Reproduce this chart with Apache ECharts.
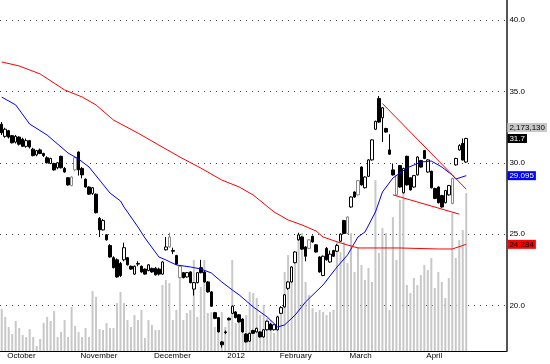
<!DOCTYPE html>
<html><head><meta charset="utf-8">
<script src="https://cdn.jsdelivr.net/npm/echarts@6/dist/echarts.min.js"></script>
<style>html,body{margin:0;padding:0;background:#fff}#c{width:550px;height:364px}</style>
</head><body><div id="c"></div>
<script>
// ---- data ----
const slotCount = 145; // trading-day slots on the axis (incl. empty right margin)
const monthLabels = ['October', 'November', 'December', '2012', 'February', 'March', 'April'];
const monthStartIdx = [1, 22, 43, 64, 79, 99, 121];
const yTicks = [20, 25, 30, 35, 40];
// [open, close, low, high]
const ohlc = [
[32.7,32.1,31.95,32.85],[31.85,32.35,31.75,32.45],[32.25,31.8,31.7,32.3],[31.9,31.4,31.35,31.95],[31.45,31.85,31.35,31.95],
[31.8,31.3,31.2,31.85],[31.65,31.15,31.1,31.75],[31.15,31.55,31.05,31.7],[31.55,31.1,31.0,31.6],[30.95,30.5,30.45,31.05],
[30.55,30.85,30.45,30.9],[30.9,30.65,30.6,31.0],[30.65,30.5,30.4,30.7],[30.35,30.0,29.95,30.45],[29.95,30.3,29.9,30.35],
[29.95,29.5,29.45,30.0],[29.65,30.0,29.55,30.05],[30.45,29.65,29.6,30.5],[29.6,29.35,29.3,29.7],[28.95,28.45,28.4,29.0],
[28.4,29.0,28.35,29.05],[29.5,30.35,29.4,30.45],[30.75,29.5,29.1,30.8],[29.6,29.15,28.9,29.7],[28.85,28.3,28.25,28.9],
[28.3,27.8,27.75,28.35],[27.85,28.25,27.75,28.3],[27.8,26.5,26.45,27.85],[26.1,25.3,24.8,26.2],[25.3,25.95,25.25,26.05],
[24.95,24.6,24.55,25.0],[24.2,23.4,23.35,24.3],[23.35,22.65,22.6,23.45],[23.2,22.0,21.95,23.3],[22.95,22.1,22.0,23.05],
[23.2,24.05,23.1,24.4],[23.35,22.85,22.8,23.4],[22.75,22.55,22.5,22.8],[22.2,22.75,22.15,22.8],[22.9,22.95,22.75,23.1],
[22.75,22.35,22.3,22.8],[22.55,22.2,22.15,22.6],[22.45,22.85,22.4,22.9],[22.6,22.35,22.3,22.65],[22.6,22.15,22.1,22.7],
[22.55,22.2,22.1,22.65],[22.2,23.05,22.15,23.1],[23.9,24.1,23.85,24.8],[24.8,24.1,24.05,25.1],[23.85,23.8,23.6,24.05],
[23.5,22.9,22.85,23.55],[22.75,21.95,21.9,22.8],[22.3,21.95,21.9,22.35],[22.0,22.3,21.95,22.35],[22.35,21.6,21.55,22.4],
[21.15,21.6,20.7,21.65],[21.6,22.3,21.55,22.35],[22.65,22.3,22.25,23.2],[22.35,21.65,21.6,22.4],[21.65,20.95,20.9,21.7],
[20.95,19.95,19.9,21.0],[19.5,19.1,19.05,19.55],[19.15,18.15,18.1,19.2],[17.45,17.25,17.05,17.5],[18.15,18.1,18.0,18.25],
[19.1,19.0,18.95,19.15],[19.45,19.95,19.4,20.0],[19.55,19.15,19.1,19.6],[19.35,18.85,18.8,19.4],[19.05,18.15,18.1,19.1],
[18.0,17.45,17.4,18.05],[17.5,18.05,17.45,18.1],[18.25,18.05,18.0,18.3],[18.15,18.4,18.1,18.45],[18.15,17.8,17.75,18.2],
[17.8,18.3,17.75,18.35],[18.3,18.9,18.25,18.95],[18.7,18.3,18.25,18.75],[18.3,18.65,18.25,18.7],[18.3,19.2,18.25,19.25],
[19.45,19.85,19.4,19.95],[19.9,20.75,19.85,20.8],[21.2,21.65,21.1,21.7],[21.65,22.7,21.6,22.75],[23.0,23.75,22.95,23.8],
[24.6,24.95,24.55,25.1],[24.8,23.95,23.9,24.85],[24.1,23.45,23.1,24.15],[24.0,24.6,23.95,24.65],[24.85,24.45,24.4,24.9],
[24.25,23.75,23.7,24.3],[23.4,22.35,22.3,23.45],[22.1,23.45,22.05,23.5],[24.0,23.2,23.15,24.1],[23.05,23.6,23.0,23.85],
[23.85,23.45,23.4,23.9],[23.8,24.2,23.75,24.3],[24.5,25.0,24.45,25.05],[25.95,25.05,25.0,26.0],[25.05,26.2,25.0,26.25],
[26.9,27.6,26.85,27.65],[27.95,27.6,27.55,28.0],[27.75,28.75,27.7,28.8],[29.7,28.45,28.4,29.75],[28.25,29.0,28.2,29.05],
[29.05,30.2,29.0,30.25],[30.2,31.6,30.15,31.65],[32.35,32.9,32.3,32.95],[34.5,32.85,32.8,34.68],[33.15,33.85,31.45,33.9],
[32.4,32.15,32.1,32.45],[30.9,30.6,30.55,32.0],[29.5,29.15,29.1,29.95],[29.1,27.75,27.7,29.15],[29.8,28.3,28.25,29.85],
[27.9,29.6,27.85,29.65],[30.45,28.45,28.4,30.5],[28.95,28.1,28.05,29.0],[28.3,29.1,28.25,29.15],[29.15,30.4,29.1,30.45],
[30.15,29.7,29.65,30.2],[30.85,30.3,30.25,30.9],[29.35,30.2,29.3,30.25],[29.4,28.25,28.2,29.45],[28.2,27.5,27.45,28.25],
[28.3,27.2,27.15,28.35],[27.7,26.9,26.85,27.75],[27.2,28.05,27.15,28.1],[27.75,28.4,27.7,28.45],[27.15,28.9,27.1,28.95],
[29.85,30.3,29.8,30.35],[30.9,31.2,30.85,31.3],[31.35,30.2,30.15,31.7],[30.05,31.7,30.0,31.75]
];
const volume = [
578000,468000,330000,234000,413000,316000,220000,193000,303000,193000,
69000,165000,385000,468000,413000,550000,193000,261000,426000,193000,
605000,344000,261000,193000,316000,193000,825000,743000,303000,289000,
385000,316000,316000,660000,812000,660000,426000,330000,495000,426000,
564000,179000,426000,358000,289000,289000,908000,977000,935000,426000,
564000,1114000,426000,523000,564000,1252000,468000,880000,1252000,523000,
536000,330000,248000,536000,330000,468000,1252000,385000,495000,261000,
495000,812000,798000,729000,495000,633000,454000,426000,248000,495000,
605000,1087000,1320000,1018000,1224000,1568000,1623000,949000,770000,591000,
536000,564000,536000,495000,536000,564000,1499000,1362000,1499000,1210000,
1623000,1087000,1430000,1183000,977000,1142000,949000,2352000,1348000,1692000,
1623000,564000,1843000,1252000,2077000,2283000,908000,798000,1004000,908000,
1045000,1183000,1114000,1279000,867000,1087000,949000,729000,1004000,1898000,
1279000,1527000,1664000,2173130
];
// moving averages: [day index, value]
const ma20 = [
[0,34.60],[4,34.05],[8,32.71],[13,31.94],[19,30.68],[22,30.26],[25,29.70],[28,28.79],[31,27.88],[34,27.32],
[35,26.90],[39,25.50],[41,24.73],[45,23.40],[47,23.19],[50,22.84],[54,22.70],[57,22.56],[60,22.28],[63,21.65],
[66,21.09],[68,20.74],[72,19.90],[76,19.20],[79,18.50],[81,18.64],[84,19.33],[87,20.25],[92,21.44],[96,22.70],
[99,23.54],[102,24.80],[104,25.15],[107,26.55],[109,27.95],[112,28.93],[116,29.63],[120,30.05],[123,30.12],
[126,29.70],[129,29.14],[130,28.86],[133,29.095]
];
const ma50 = [
[0,37.06],[5,36.78],[11,36.22],[18,35.10],[23,34.61],[27,34.05],[32,32.99],[39,32.08],[45,31.24],[51,30.40],
[57,29.63],[63,28.79],[68,28.30],[72,27.74],[78,26.55],[82,25.99],[86,25.64],[90,25.22],[92,24.80],[97,24.38],
[102,24.03],[114,24.03],[125,23.96],[129,23.96],[133,24.284]
];
const wedgeUpper = [[109,34.15],[133,28.15]];
const wedgeLower = [[112,27.75],[131,26.40]];

// ---- styling (kept apart from the data) ----
const grayCandleDays = [20, 21, 48, 51, 88, 99, 102, 113, 129];

// ---- chart ----
const days = [];
for (let i = 0; i < slotCount; i++) {
  const k = monthStartIdx.indexOf(i);
  days.push(k >= 0 ? monthLabels[k] : '');
}
const candleItems = ohlc.map((d, i) => grayCandleDays.includes(i)
  ? {value: d, itemStyle: {color: '#ffffff', color0: '#9a9a9a', borderColor: '#8a8a8a', borderColor0: '#8a8a8a'}}
  : d);
const last = ohlc.length - 1;
const lastClose = ohlc[last][1];
const ma20Last = ma20[ma20.length - 1][1];
const ma50Last = ma50[ma50.length - 1][1];
const lastVol = volume[last];
const volTagAt = lastClose + 0.77;
const PMIN = 16.813, PMAX = 41.401;
const FONT = 'Arial, "Liberation Sans", sans-serif';

const chart = echarts.init(document.getElementById('c'), null, {renderer: 'canvas'});
chart.setOption({
  animation: false,
  backgroundColor: '#ffffff',
  grid: {left: 0, right: 43, top: 0, bottom: 13, containLabel: false},
  xAxis: {
    type: 'category', data: days, boundaryGap: true,
    axisLine: {lineStyle: {color: '#000', width: 1}},
    axisTick: {alignWithLabel: true, interval: (i, v) => v !== '', length: 5, lineStyle: {color: '#000'}},
    axisLabel: {interval: (i, v) => v !== '', align: 'left', margin: 1, padding: [0, 0, 0, 2],
      fontSize: 8, color: '#000', fontFamily: FONT},
    splitLine: {show: false}
  },
  yAxis: [
    {type: 'value', position: 'right', min: PMIN, max: PMAX, scale: true,
     axisLine: {show: true, lineStyle: {color: '#555', width: 2}},
     axisTick: {show: false, customValues: yTicks},
     axisLabel: {customValues: yTicks, margin: 3, fontSize: 8, color: '#000', fontFamily: FONT,
       formatter: v => Number(v).toFixed(1)},
     splitLine: {show: true, lineStyle: {type: [1, 5], color: '#444', width: 1}}},
    {type: 'value', position: 'left', min: 0, max: 4830000, show: false,
     splitLine: {show: false}},
    {type: 'value', position: 'right', min: PMIN, max: PMAX,
     axisLine: {show: false}, axisTick: {show: false}, splitLine: {show: false},
     axisLabel: {customValues: [volTagAt, lastClose, ma20Last, ma50Last], margin: 1,
       fontFamily: FONT, fontSize: 8,
       formatter: v => {
         if (v === volTagAt) return '{vol|' + lastVol.toLocaleString('en-US') + '}';
         if (v === lastClose) return '{cl|' + lastClose.toFixed(1) + '}';
         if (v === ma20Last) return '{m20|' + ma20Last.toFixed(3) + '}';
         return '{m50|' + ma50Last.toFixed(3) + '}';
       },
       rich: {
         vol: {backgroundColor: '#c8c8c8', color: '#000', fontSize: 8, fontFamily: FONT, padding: [1, 2, 0, 2], lineHeight: 9},
         cl: {backgroundColor: '#000', color: '#fff', fontSize: 8, fontFamily: FONT, padding: [1, 2, 0, 2], lineHeight: 9},
         m20: {backgroundColor: '#0000ff', color: '#fff', fontSize: 8, fontFamily: FONT, padding: [1, 2, 0, 2], lineHeight: 9},
         m50: {backgroundColor: '#ff0000', color: '#000', fontSize: 8, fontFamily: FONT, padding: [1, 2, 0, 2], lineHeight: 9}
       }}}
  ],
  series: [
    {type: 'bar', name: 'Volume', xAxisIndex: 0, yAxisIndex: 1, data: volume, barWidth: 2,
     itemStyle: {color: '#c8c8c8'}, z: 1, silent: true},
    {type: 'candlestick', name: 'Price', xAxisIndex: 0, yAxisIndex: 0, data: candleItems, barWidth: 3,
     itemStyle: {color: '#ffffff', color0: '#000000', borderColor: '#000000', borderColor0: '#000000', borderWidth: 1},
     z: 3},
    {type: 'line', name: 'MA20', yAxisIndex: 0, data: ma20, showSymbol: false, symbol: 'none',
     lineStyle: {color: '#0000ff', width: 1}, z: 4},
    {type: 'line', name: 'MA50', yAxisIndex: 0, data: ma50, showSymbol: false, symbol: 'none',
     lineStyle: {color: '#ff0000', width: 1}, z: 4},
    {type: 'line', name: 'Upper', yAxisIndex: 0, data: wedgeUpper, showSymbol: false, symbol: 'none',
     lineStyle: {color: '#ff0000', width: 1}, z: 5},
    {type: 'line', name: 'Lower', yAxisIndex: 0, data: wedgeLower, showSymbol: false, symbol: 'none',
     lineStyle: {color: '#ff0000', width: 1}, z: 5}
  ]
});
</script></body></html>
